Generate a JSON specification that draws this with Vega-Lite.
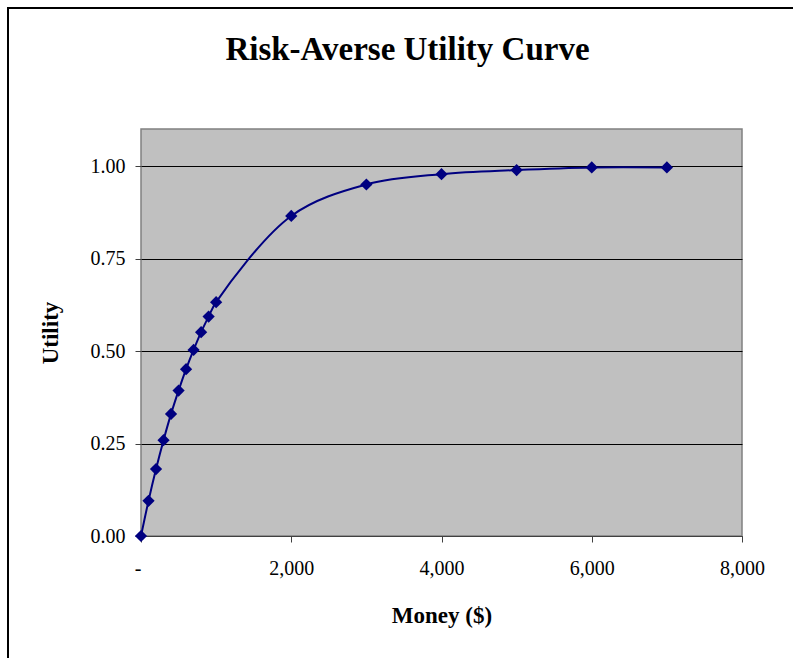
{
  "$schema": "https://vega.github.io/schema/vega-lite/v6.json",
  "width": 601,
  "height": 407,
  "autosize": {"type": "none"},
  "padding": {"left": 141, "top": 129, "right": 51, "bottom": 122},
  "background": "white",
  "title": {
    "text": "Risk-Averse Utility Curve",
    "font": "Liberation Serif",
    "fontSize": 33,
    "fontWeight": "bold",
    "color": "black",
    "anchor": "middle",
    "baseline": "alphabetic",
    "dx": -34,
    "offset": -86
  },
  "config": {
    "view": {"stroke": "#808080", "strokeWidth": 1.5, "fill": "#C0C0C0"},
    "axis": {
      "labelFont": "Liberation Serif",
      "titleFont": "Liberation Serif",
      "labelColor": "black",
      "titleColor": "black",
      "labelFontSize": 20,
      "titleFontSize": 23,
      "titleFontWeight": "bold",
      "domainColor": "#404040",
      "tickColor": "#404040",
      "tickSize": 6
    }
  },
  "data": {
    "values": [
      {"money": 0, "utility": 0.0},
      {"money": 100, "utility": 0.095},
      {"money": 200, "utility": 0.181},
      {"money": 300, "utility": 0.259},
      {"money": 400, "utility": 0.330},
      {"money": 500, "utility": 0.393},
      {"money": 600, "utility": 0.451},
      {"money": 700, "utility": 0.503},
      {"money": 800, "utility": 0.551},
      {"money": 900, "utility": 0.593},
      {"money": 1000, "utility": 0.632},
      {"money": 2000, "utility": 0.865},
      {"money": 3000, "utility": 0.950},
      {"money": 4000, "utility": 0.978},
      {"money": 5000, "utility": 0.989},
      {"money": 6000, "utility": 0.996},
      {"money": 7000, "utility": 0.996}
    ]
  },
  "layer": [
    {
      "mark": {"type": "rect", "fill": null, "stroke": "black", "strokeWidth": 2, "clip": false},
      "encoding": {
        "x": {"value": -133},
        "x2": {"value": 720},
        "y": {"value": -121},
        "y2": {"value": 600}
      }
    },
    {
      "mark": {"type": "line", "color": "#000080", "strokeWidth": 2, "interpolate": "catmull-rom"},
      "encoding": {
        "x": {
          "field": "money",
          "type": "quantitative",
          "scale": {"domain": [0, 8000], "nice": false},
          "axis": {
            "title": "Money ($)",
            "values": [0, 2000, 4000, 6000, 8000],
            "labelExpr": "datum.value == 0 ? '-' : format(datum.value, ',')",
            "labelAlign": {"condition": {"test": "datum.value == 0", "value": "right"}, "value": "center"},
            "grid": false,
            "labelPadding": 16,
            "titlePadding": 26
          }
        },
        "y": {
          "field": "utility",
          "type": "quantitative",
          "scale": {"domain": [0, 1.1], "nice": false},
          "axis": {
            "title": "Utility",
            "values": [0, 0.25, 0.5, 0.75, 1.0],
            "format": ".2f",
            "grid": true,
            "gridColor": "black",
            "gridOpacity": 1,
            "gridWidth": 1,
            "domain": false,
            "labelPadding": 10,
            "titlePadding": 28
          }
        }
      }
    },
    {
      "mark": {"type": "point", "shape": "diamond", "filled": true, "color": "#000080", "size": 150, "opacity": 1},
      "encoding": {
        "x": {"field": "money", "type": "quantitative"},
        "y": {"field": "utility", "type": "quantitative"}
      }
    }
  ]
}
